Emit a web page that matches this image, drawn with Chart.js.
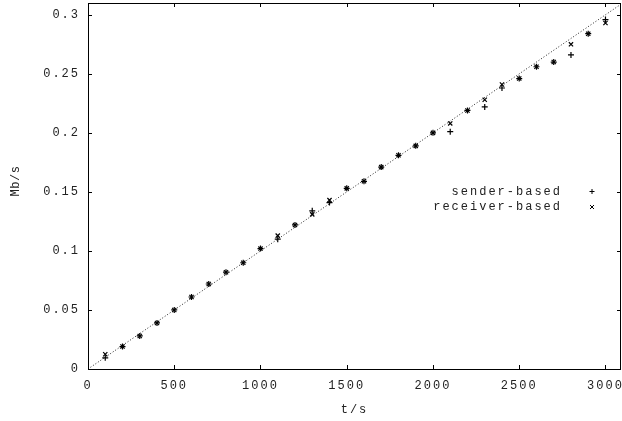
<!DOCTYPE html>
<html>
<head>
<meta charset="utf-8">
<script src="https://cdn.jsdelivr.net/npm/chart.js@4/dist/chart.umd.min.js"></script>
<style>
  html, body { margin: 0; padding: 0; background: #fff; }
  canvas { display: block; }
</style>
</head>
<body>
<canvas id="chart" width="622" height="421"></canvas>
<script>
// --- data ---
const times = [100, 200, 300, 400, 500, 600, 700, 800, 900, 1000,
               1100, 1200, 1300, 1400, 1500, 1600, 1700, 1800, 1900, 2000,
               2100, 2200, 2300, 2400, 2500, 2600, 2700, 2800, 2900, 3000];
const senderRate = [0.0095, 0.019, 0.028, 0.039, 0.050, 0.061, 0.072, 0.082, 0.090, 0.102,
                    0.110, 0.122, 0.134, 0.141, 0.153, 0.159, 0.171, 0.181, 0.189, 0.200,
                    0.201, 0.219, 0.222, 0.238, 0.246, 0.256, 0.260, 0.266, 0.284, 0.296];
const receiverRate = [0.0125, 0.019, 0.028, 0.039, 0.050, 0.061, 0.072, 0.082, 0.090, 0.102,
                      0.113, 0.122, 0.131, 0.143, 0.153, 0.159, 0.171, 0.181, 0.189, 0.200,
                      0.208, 0.219, 0.228, 0.241, 0.246, 0.256, 0.260, 0.275, 0.284, 0.293];
// reference line y = x / 10000
const fitX = [0, 3100];
const fitY = [0, 0.31];

const xTicks = [0, 500, 1000, 1500, 2000, 2500, 3000];
const yTicks = [0, 0.05, 0.1, 0.15, 0.2, 0.25, 0.3];
const xTitle = 't/s';
const yTitle = 'Mb/s';

const FONT = "'Liberation Mono', 'DejaVu Sans Mono', monospace";
const TEXT = '#222';

const toPoints = (xs, ys) => xs.map((x, i) => ({ x: x, y: ys[i] }));

// gnuplot look: frame, inward ticks on all four sides, legend, rotated y title
const gnuplotFrame = {
    id: 'gnuplotFrame',
    beforeDraw(chart) {
        chart.ctx.letterSpacing = '2px';
    },
    afterDraw(chart) {
        const ctx = chart.ctx;
        const a = chart.chartArea;
        const xs = chart.scales.x, ys = chart.scales.y;
        const tl = 4;
        ctx.save();
        ctx.strokeStyle = '#000';
        ctx.lineWidth = 1;
        ctx.beginPath();
        xs.ticks.forEach(t => {
            const px = Math.round(xs.getPixelForValue(t.value)) + 0.5;
            ctx.moveTo(px, a.bottom); ctx.lineTo(px, a.bottom - tl);
            ctx.moveTo(px, a.top); ctx.lineTo(px, a.top + tl);
        });
        ys.ticks.forEach(t => {
            const py = Math.round(ys.getPixelForValue(t.value)) + 0.5;
            ctx.moveTo(a.left, py); ctx.lineTo(a.left + tl, py);
            ctx.moveTo(a.right, py); ctx.lineTo(a.right - tl, py);
        });
        ctx.stroke();
        ctx.strokeRect(Math.round(a.left) + 0.5, Math.round(a.top) + 0.5,
                       Math.round(a.right - a.left) - 1, Math.round(a.bottom - a.top));

        // legend
        ctx.font = '12px ' + FONT;
        ctx.fillStyle = TEXT;
        ctx.textAlign = 'right';
        ctx.textBaseline = 'middle';
        const scatterSets = chart.data.datasets.filter(d => d.showInLegend);
        scatterSets.forEach((d, i) => {
            const y = a.top + 188.5 + i * 15.5;
            ctx.letterSpacing = '2px';
            ctx.fillText(d.label, a.right - 59, y);
            const mx = a.right - 29;
            ctx.beginPath();
            if (d.pointStyle === 'cross') {
                ctx.moveTo(mx - 2.5, y); ctx.lineTo(mx + 2.5, y);
                ctx.moveTo(mx, y - 2.5); ctx.lineTo(mx, y + 2.5);
            } else {
                ctx.moveTo(mx - 2, y - 2); ctx.lineTo(mx + 2, y + 2);
                ctx.moveTo(mx - 2, y + 2); ctx.lineTo(mx + 2, y - 2);
            }
            ctx.stroke();
        });

        // y title
        ctx.letterSpacing = '0.5px';
        ctx.translate(16, (a.top + a.bottom) / 2 - 5);
        ctx.rotate(-Math.PI / 2);
        ctx.textAlign = 'center';
        ctx.fillText(yTitle, 0, 0);
        ctx.restore();
    }
};

new Chart(document.getElementById('chart'), {
    type: 'scatter',
    data: {
        datasets: [
            {
                label: 'sender-based', showInLegend: true,
                data: toPoints(times, senderRate),
                pointStyle: 'cross', pointRadius: 3, borderWidth: 1.2,
                borderColor: '#000', backgroundColor: '#000'
            },
            {
                label: 'receiver-based', showInLegend: true,
                data: toPoints(times, receiverRate),
                pointStyle: 'crossRot', pointRadius: 3, borderWidth: 1.2,
                borderColor: '#000', backgroundColor: '#000'
            },
            {
                label: 'fit', type: 'line',
                data: toPoints(fitX, fitY),
                showLine: true, pointRadius: 0, borderWidth: 1,
                borderColor: '#222', borderDash: [1, 2], fill: false
            }
        ]
    },
    options: {
        responsive: false,
        animation: false,
        layout: { autoPadding: false, padding: { top: 3, right: 1, left: 0, bottom: 0 } },
        plugins: { legend: { display: false }, tooltip: { enabled: false } },
        scales: {
            x: {
                type: 'linear', min: 0, max: 3090,
                grid: { display: false, drawTicks: false },
                border: { display: false },
                afterBuildTicks: s => { s.ticks = xTicks.map(v => ({ value: v })); },
                afterFit: s => { s.height = 52; s.paddingLeft = 0; s.paddingRight = 0; },
                ticks: {
                    padding: 10, color: TEXT, maxRotation: 0,
                    font: { family: FONT, size: 12 },
                    callback: v => String(v)
                },
                title: {
                    display: true, text: xTitle, color: TEXT,
                    font: { family: FONT, size: 12 }, padding: { top: 5 }
                }
            },
            y: {
                type: 'linear', min: 0, max: 0.31,
                grid: { display: false, drawTicks: false },
                border: { display: false },
                afterBuildTicks: s => { s.ticks = yTicks.map(v => ({ value: v })); },
                afterFit: s => { s.width = 88; s.paddingTop = 0; s.paddingBottom = 0; },
                ticks: {
                    padding: 8, color: TEXT,
                    font: { family: FONT, size: 12 },
                    callback: v => String(+v.toFixed(2))
                }
            }
        }
    },
    plugins: [gnuplotFrame]
});
</script>
</body>
</html>
